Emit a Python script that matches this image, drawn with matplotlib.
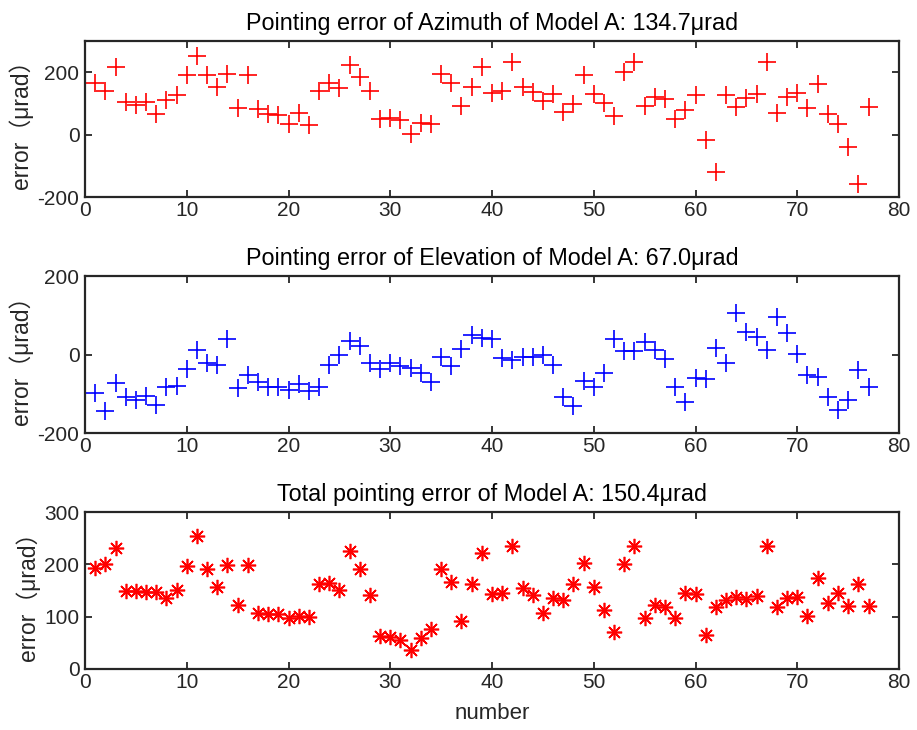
"""
Pointing error of Model A - three stacked scatter panels
"""
import matplotlib
matplotlib.use('Agg')
import matplotlib.pyplot as plt

plt.rcParams['font.family'] = ['Liberation Sans', 'Noto Sans CJK SC', 'DejaVu Sans']
plt.rcParams['axes.unicode_minus'] = False

number = list(range(1, 78))

azimuth = [165, 138, 218, 104, 94, 104, 67, 110, 126, 191,
           253, 191, 152, 195, 86, 191, 83, 65, 62, 35,
           70, 32, 138, 165, 150, 223, 184, 138, 51, 54,
           48, 3, 37, 35, 195, 165, 90, 152, 218, 133,
           141, 234, 152, 136, 106, 131, 72, 99, 191, 131,
           101, 59, 200, 234, 90, 120, 115, 51, 78, 128,
           -18, -119, 128, 88, 117, 131, 234, 69, 120, 133,
           85, 163, 67, 33, -41, -159, 88]

elevation = [-98, -142, -73, -107, -115, -105, -128, -81, -80, -37,
             12, -22, -25, 39, -84, -52, -70, -83, -83, -90,
             -75, -92, -81, -25, -1, 35, 23, -20, -37, -20,
             -29, -35, -46, -69, -5, -29, 14, 50, 42, 40,
             -8, -14, -5, -5, -1, -25, -107, -130, -66, -83,
             -47, 40, 10, 10, 33, 12, -12, -83, -121, -60,
             -62, 16, -22, 105, 57, 46, 12, 95, 54, 1,
             -52, -58, -107, -141, -115, -39, -81]

total = [194, 201, 232, 150, 150, 148, 148, 135, 151, 197,
         254, 192, 157, 199, 122, 199, 108, 106, 106, 97,
         101, 99, 162, 165, 151, 226, 191, 141, 64, 61,
         55, 36, 59, 76, 192, 167, 92, 162, 222, 143,
         146, 236, 155, 141, 108, 135, 132, 162, 203, 157,
         113, 71, 201, 236, 98, 122, 119, 98, 145, 143,
         65, 118, 132, 138, 133, 139, 236, 119, 135, 137,
         101, 175, 127, 145, 120, 162, 120]

titles = ['Pointing error of Azimuth of Model A: 134.7μrad',
          'Pointing error of Elevation of Model A: 67.0μrad',
          'Total pointing error of Model A: 150.4μrad']

ylims = [(-200, 300), (-200, 200), (0, 300)]
yticks = [[-200, 0, 200], [-200, 0, 200], [0, 100, 200, 300]]

text_color = '#262626'
asterisk = (8, 2, 0)

fig = plt.figure(figsize=(9.17, 7.30), dpi=100)
boxes = [[0.0927, 0.730, 0.8877, 0.214],
         [0.0927, 0.4064, 0.8877, 0.2155],
         [0.0927, 0.0836, 0.8877, 0.2147]]

series = [(azimuth, '+', '#FF0000', 13),
          (elevation, '+', '#0000FF', 13),
          (total, asterisk, '#FF0000', 11)]

for i, (vals, marker, color, ms) in enumerate(series):
    ax = fig.add_axes(boxes[i])
    ax.plot(number, vals, linestyle='none', marker=marker, color=color,
            markersize=ms, markeredgewidth=1.2)
    ax.set_xlim(0, 80)
    ax.set_ylim(*ylims[i])
    ax.set_xticks(range(0, 81, 10))
    ax.set_yticks(yticks[i])
    ax.set_title(titles[i], fontsize=16.8, color='black', pad=8)
    ax.set_ylabel('error（μrad）', fontsize=16.5, color=text_color, labelpad=3)
    ax.tick_params(direction='in', top=True, right=True, length=5, width=1.3,
                   labelsize=15, colors=text_color, pad=4)
    ax.tick_params(axis='x', pad=3)
    for spine in ax.spines.values():
        spine.set_linewidth(1.6)
        spine.set_color(text_color)

ax.set_xlabel('number', fontsize=16, color=text_color, labelpad=8)

fig.savefig('out.png', dpi=100)
plt.close(fig)
